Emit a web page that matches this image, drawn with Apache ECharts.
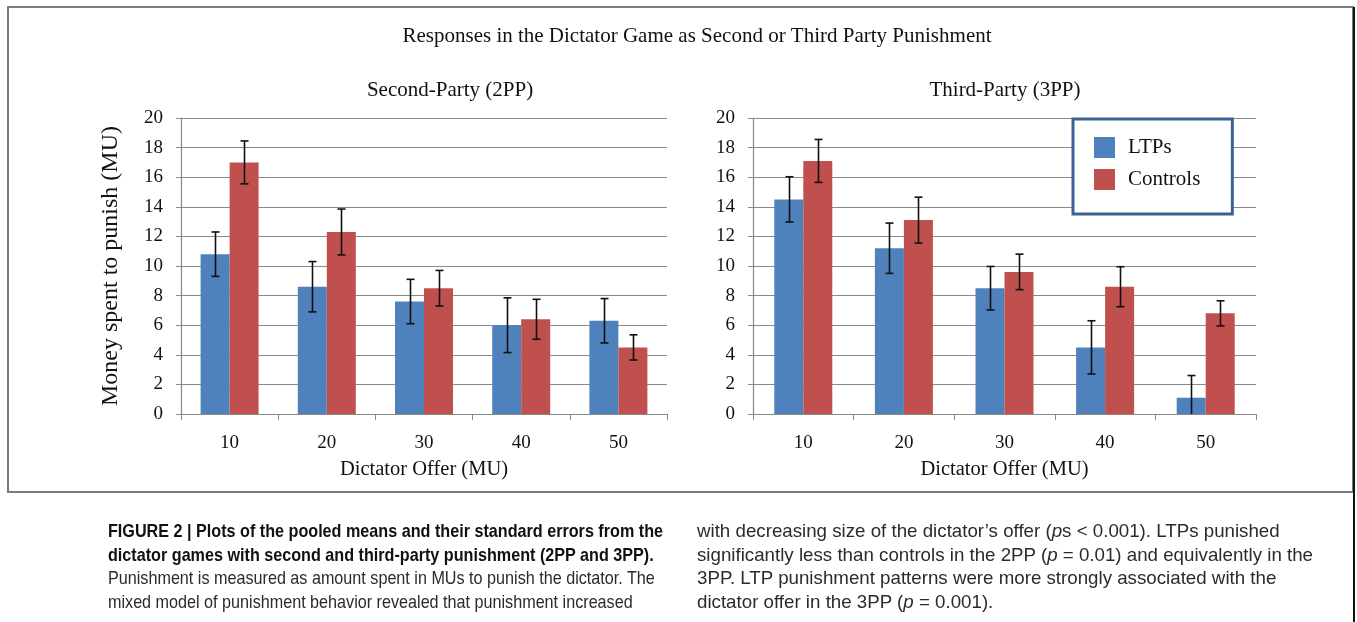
<!DOCTYPE html>
<html>
<head>
<meta charset="utf-8">
<script src="https://cdn.jsdelivr.net/npm/echarts@6/dist/echarts.min.js"></script>
<style>
  html, body { margin: 0; padding: 0; background: #fff; }
  #wrap { position: relative; width: 1357px; height: 622px; overflow: hidden; }
  #chart { position: absolute; left: 0; top: 0; width: 1357px; height: 622px; }
  .col { position: absolute; top: 519px; font-family: "Liberation Sans", Arial, sans-serif;
         font-size: 18.5px; line-height: 23.7px; color: #2b2b2b; white-space: nowrap;
         transform-origin: 0 0; }
  .col b { color: #111; }
</style>
</head>
<body>
<div id="wrap">
  <div id="chart"></div>
  <!-- figure caption in two columns; data-w is the width of each column's longest line -->
  <div class="col" style="left:108px;" data-w="555">
    <span class="key"><b>FIGURE 2 | Plots of the pooled means and their standard errors from the</b></span><br>
    <b>dictator games with second and third-party punishment (2PP and 3PP).</b><br>
    Punishment is measured as amount spent in MUs to punish the dictator. The<br>
    mixed model of punishment behavior revealed that punishment increased
  </div>
  <div class="col" style="left:697px;" data-w="616">
    with decreasing size of the dictator’s offer (<i>p</i>s &lt; 0.001). LTPs punished<br>
    <span class="key">significantly less than controls in the 2PP (<i>p</i> = 0.01) and equivalently in the</span><br>
    3PP. LTP punishment patterns were more strongly associated with the<br>
    dictator offer in the 3PP (<i>p</i> = 0.001).
  </div>
</div>
<script>
// Dictator offers (MU)
const offers = ['10', '20', '30', '40', '50'];

// Second-party punishment: means and standard errors
const ltp2pp = [10.8, 8.6, 7.6, 6.0, 6.3];
const ltp2ppSe = [1.5, 1.7, 1.5, 1.85, 1.5];
const ctrl2pp = [17.0, 12.3, 8.5, 6.4, 4.5];
const ctrl2ppSe = [1.45, 1.55, 1.2, 1.35, 0.85];

// Third-party punishment: means and standard errors
const ltp3pp = [14.5, 11.2, 8.5, 4.5, 1.1];
const ltp3ppSe = [1.53, 1.7, 1.47, 1.8, 1.5];
const ctrl3pp = [17.1, 13.1, 9.6, 8.6, 6.8];
const ctrl3ppSe = [1.45, 1.55, 1.2, 1.35, 0.85];

const BLUE = '#4f81bd';
const RED = '#c0504d';
const GRID_GRAY = '#8a8a8a';
const SERIF = '"Liberation Serif", "Times New Roman", serif';
const BAR_W = 29;

// condense each caption column so its key line has the set width
document.querySelectorAll('.col').forEach(function (col) {
  const key = col.querySelector('.key');
  const natural = key.getBoundingClientRect().width;
  const s = parseFloat(col.dataset.w) / natural;
  col.style.transform = 'scaleX(' + s.toFixed(4) + ')';
});

function errorBars(axisIdx, means, ses, offset) {
  return {
    type: 'custom',
    name: 'err' + axisIdx + offset,
    xAxisIndex: axisIdx,
    yAxisIndex: axisIdx,
    clip: true,
    z: 10,
    silent: true,
    data: means.map((m, i) => [i, m, ses[i]]),
    encode: { x: 0, y: 1 },
    renderItem: function (params, api) {
      const i = api.value(0), m = api.value(1), s = api.value(2);
      const hi = api.coord([i, m + s]);
      const lo = api.coord([i, m - s]);
      const x = Math.round(hi[0] + offset) + 0.5;
      const cap = 4;
      const st = { stroke: '#111', lineWidth: 1.6 };
      return {
        type: 'group',
        children: [
          { type: 'line', shape: { x1: x, y1: hi[1], x2: x, y2: lo[1] }, style: st },
          { type: 'line', shape: { x1: x - cap, y1: hi[1], x2: x + cap, y2: hi[1] }, style: st },
          { type: 'line', shape: { x1: x - cap, y1: lo[1], x2: x + cap, y2: lo[1] }, style: st }
        ]
      };
    }
  };
}

function xAxis(gridIndex) {
  return {
    type: 'category',
    gridIndex: gridIndex,
    data: offers,
    axisLine: { lineStyle: { color: GRID_GRAY, width: 1.2 } },
    axisTick: { show: true, length: 6, lineStyle: { color: GRID_GRAY } },
    axisLabel: { margin: 20, fontFamily: SERIF, fontSize: 19, color: '#111' },
    name: 'Dictator Offer (MU)',
    nameLocation: 'middle',
    nameGap: 45,
    nameTextStyle: { fontFamily: SERIF, fontSize: 20.5, color: '#111' }
  };
}

function yAxis(gridIndex, withName) {
  const ax = {
    type: 'value',
    gridIndex: gridIndex,
    min: 0,
    max: 20,
    interval: 2,
    axisLine: { show: true, lineStyle: { color: GRID_GRAY, width: 1.2 } },
    axisTick: { show: true, length: 5, lineStyle: { color: GRID_GRAY } },
    axisLabel: { margin: 18, fontFamily: SERIF, fontSize: 19, color: '#111' },
    splitLine: { lineStyle: { color: GRID_GRAY, width: 1.2 } }
  };
  if (withName) {
    ax.name = 'Money spent to punish (MU)';
    ax.nameLocation = 'middle';
    ax.nameGap = 58;
    ax.nameTextStyle = { fontFamily: SERIF, fontSize: 24, color: '#111' };
  }
  return ax;
}

function bars(name, axisIdx, data, color) {
  return {
    type: 'bar',
    name: name,
    xAxisIndex: axisIdx,
    yAxisIndex: axisIdx,
    data: data,
    barWidth: BAR_W,
    barGap: '0%',
    itemStyle: { color: color },
    z: 2
  };
}

const chart = echarts.init(document.getElementById('chart'), null, { renderer: 'canvas' });

chart.setOption({
  backgroundColor: '#fff',
  animation: false,
  title: [
    { text: 'Responses in the Dictator Game as Second or Third Party Punishment',
      left: 692, top: 21, textAlign: 'center',
      textStyle: { fontFamily: SERIF, fontSize: 21, fontWeight: 'normal', color: '#111' } },
    { text: 'Second-Party (2PP)', left: 445, top: 75, textAlign: 'center',
      textStyle: { fontFamily: SERIF, fontSize: 21, fontWeight: 'normal', color: '#111' } },
    { text: 'Third-Party (3PP)', left: 1000, top: 75, textAlign: 'center',
      textStyle: { fontFamily: SERIF, fontSize: 21, fontWeight: 'normal', color: '#111' } }
  ],
  legend: {
    data: ['LTPs', 'Controls'],
    orient: 'vertical',
    left: 1073,
    top: 119,
    icon: 'rect',
    itemWidth: 21,
    itemHeight: 21,
    itemGap: 11,
    padding: [18, 32, 24, 21],
    borderColor: '#3b6293',
    borderWidth: 3,
    backgroundColor: '#fff',
    textStyle: { fontFamily: SERIF, fontSize: 21, color: '#111', padding: [0, 0, 0, 8] },
    selectedMode: false
  },
  grid: [
    { left: 181, top: 118, width: 486, height: 296 },
    { left: 753, top: 118, width: 503, height: 296 }
  ],
  xAxis: [xAxis(0), xAxis(1)],
  yAxis: [yAxis(0, true), yAxis(1, false)],
  series: [
    bars('LTPs', 0, ltp2pp, BLUE),
    bars('Controls', 0, ctrl2pp, RED),
    bars('LTPs', 1, ltp3pp, BLUE),
    bars('Controls', 1, ctrl3pp, RED),
    errorBars(0, ltp2pp, ltp2ppSe, -BAR_W / 2),
    errorBars(0, ctrl2pp, ctrl2ppSe, BAR_W / 2),
    errorBars(1, ltp3pp, ltp3ppSe, -BAR_W / 2),
    errorBars(1, ctrl3pp, ctrl3ppSe, BAR_W / 2)
  ],
  graphic: [
    { type: 'rect', shape: { x: 8, y: 7, width: 1345, height: 485 },
      style: { fill: 'none', stroke: '#7a7a7a', lineWidth: 2 }, silent: true, z: -1 },
    { type: 'line', shape: { x1: 1354, y1: 7, x2: 1354, y2: 622 },
      style: { stroke: '#111', lineWidth: 2 }, silent: true }
  ]
});
</script>
</body>
</html>
